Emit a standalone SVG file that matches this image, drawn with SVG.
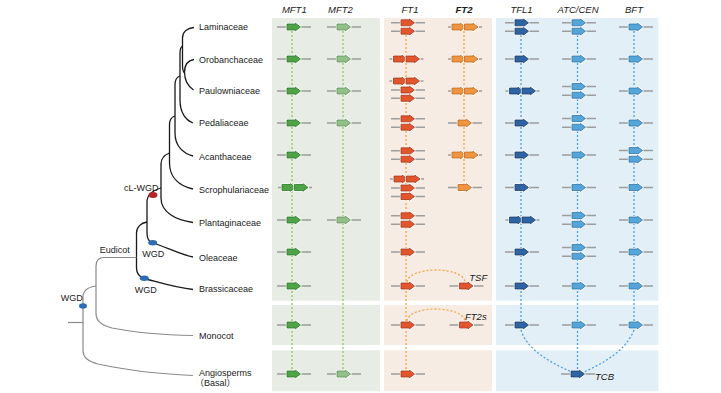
<svg xmlns="http://www.w3.org/2000/svg" xmlns:xlink="http://www.w3.org/1999/xlink" width="721" height="393" viewBox="0 0 721 393">
<style>
text{font-family:"Liberation Sans",Arial,sans-serif;fill:#1a1a1a}
.tx{font-size:9px}
.hd{font-size:9.5px;font-style:italic;text-anchor:middle}
.gl{font-size:9.5px;font-style:italic}
.ln{stroke:#9d9d9d;stroke-width:1.4}
.hl{fill:none;stroke:#ffffff;stroke-width:2.2;stroke-linejoin:round}
.cG{fill:#4ea447;stroke:#2d7a2a;stroke-width:0.8}
.cL{fill:#93c08a;stroke:#5d9156;stroke-width:0.8}
.cR{fill:#e2562f;stroke:#a3381b;stroke-width:0.8}
.cO{fill:#ef9440;stroke:#bd6a1f;stroke-width:0.8}
.cD{fill:#2f64a3;stroke:#1b3f70;stroke-width:0.8}
.cB{fill:#55a5d8;stroke:#2f77ad;stroke-width:0.8}
.br{fill:none;stroke:#1a1a1a;stroke-width:1.3}
.bg{fill:none;stroke:#8a8a8a;stroke-width:1.2}
.dg{fill:none;stroke:#92c85a;stroke-width:1.3;stroke-dasharray:2 2}
.do{fill:none;stroke:#f3a545;stroke-width:1.3;stroke-dasharray:2 2}
.db{fill:none;stroke:#4ea0d8;stroke-width:1.3;stroke-dasharray:2 2}
.pG{fill:#e7ede5}
.pO{fill:#f6ece3}
.pB{fill:#e3eff6}
</style>
<defs>
<path id="ah" d="M0,-3 H8.5 V-3.8 L13.5,0 L8.5,3.8 V3 H0 Z"/>
<g id="sG"><line class="ln" x1="-10" y1="0" x2="24" y2="0"/><use href="#ah" class="hl"/><use href="#ah" class="cG"/></g>
<g id="sL"><line class="ln" x1="-10" y1="0" x2="24" y2="0"/><use href="#ah" class="hl"/><use href="#ah" class="cL"/></g>
<g id="sR"><line class="ln" x1="-10" y1="0" x2="24" y2="0"/><use href="#ah" class="hl"/><use href="#ah" class="cR"/></g>
<g id="sO"><line class="ln" x1="-10" y1="0" x2="24" y2="0"/><use href="#ah" class="hl"/><use href="#ah" class="cO"/></g>
<g id="sD"><line class="ln" x1="-10" y1="0" x2="24" y2="0"/><use href="#ah" class="hl"/><use href="#ah" class="cD"/></g>
<g id="sB"><line class="ln" x1="-10" y1="0" x2="24" y2="0"/><use href="#ah" class="hl"/><use href="#ah" class="cB"/></g>
<g id="tG"><line class="ln" x1="-4" y1="0" x2="30" y2="0"/><use href="#ah" class="hl"/><use href="#ah" class="cG"/><use href="#ah" x="12.5" class="hl"/><use href="#ah" x="12.5" class="cG"/></g>
<g id="tR"><line class="ln" x1="-4" y1="0" x2="30" y2="0"/><use href="#ah" class="hl"/><use href="#ah" class="cR"/><use href="#ah" x="12.5" class="hl"/><use href="#ah" x="12.5" class="cR"/></g>
<g id="tO"><line class="ln" x1="-4" y1="0" x2="30" y2="0"/><use href="#ah" class="hl"/><use href="#ah" class="cO"/><use href="#ah" x="12.5" class="hl"/><use href="#ah" x="12.5" class="cO"/></g>
<g id="tD"><line class="ln" x1="-4" y1="0" x2="30" y2="0"/><use href="#ah" class="hl"/><use href="#ah" class="cD"/><use href="#ah" x="12.5" class="hl"/><use href="#ah" x="12.5" class="cD"/></g>
</defs>

<g id="panels">
<rect class="pG" x="272" y="18" width="108" height="282.7"/>
<rect class="pG" x="272" y="305" width="108" height="40"/>
<rect class="pG" x="272" y="350.3" width="108" height="41"/>
<rect class="pO" x="384" y="18" width="108" height="282.7"/>
<rect class="pO" x="384" y="305" width="108" height="40"/>
<rect class="pO" x="384" y="350.3" width="108" height="41"/>
<rect class="pB" x="496" y="18" width="162.3" height="282.7"/>
<rect class="pB" x="496" y="305" width="162.3" height="40"/>
<rect class="pB" x="496" y="350.3" width="162.3" height="41"/>
</g>

<g id="headers">
<text class="hd" x="294.3" y="12.5">MFT1</text>
<text class="hd" x="340.5" y="12.5">MFT2</text>
<text class="hd" x="410" y="12.5">FT1</text>
<text class="hd" x="464" y="12.5" font-weight="bold">FT2</text>
<text class="hd" x="521.5" y="12.5">TFL1</text>
<text class="hd" x="578" y="12.5">ATC/CEN</text>
<text class="hd" x="634" y="12.5">BFT</text>
</g>

<g id="connectors">
<!-- tree -->
<path class="br" d="M194,59.5 C188,60.5 184.5,65 184.5,72 C184.5,80 188.5,86.5 193.5,90"/>
<path class="br" d="M194,27.5 C187.5,28 182.5,31.5 182.5,38 V66 C182.5,70 183.5,72 184.5,73"/>
<path class="br" d="M182.5,46 C181,47 180,49 180,53 V100 C180,113 186,120.5 193,123"/>
<path class="br" d="M180,76 C177,77 175,80 175,85 V133 C175,146 183,153.5 193,156"/>
<path class="br" d="M175,116 C171.5,117 169.5,120 169.5,125 V163 C169.5,178 180,186 193,189"/>
<path class="br" d="M169.5,153 C164.5,155 161,158 161,164 V198 C161,212 175,220 193,222.5"/>
<path class="br" d="M161,188 C154,190 147,194 147,202 V233 C147,239 149,242 153,243 C166,247 180,254.5 193,257"/>
<path class="br" d="M147,222 C141,223 136.5,227 136.5,233 V268 C136.5,273 139,276.5 144,278.5 C158,282 176,288 193,289.5"/>
<path class="bg" d="M136.5,257.5 H104 C99,257.5 96,260 96,266 V313 C96,321 101,325 112,328 C135,332.5 165,335 193,335.5"/>
<path class="bg" d="M96,286 C89,287 83,290 83,297 V350 C83,357 87,361 98,364 C125,370 160,374 193,375.5"/>
<path class="bg" d="M68,322.5 H83"/>
<!-- gene lineages -->
<path class="dg" d="M292,27 V374"/>
<path class="dg" d="M343,27 V374"/>
<path class="do" d="M406,27 V374"/>
<path class="do" d="M464,27 V187.5"/>
<path class="db" d="M521,27 V325"/>
<path class="db" d="M577.5,27 V374"/>
<path class="db" d="M634,27 V325"/>
<path class="do" d="M407,282 C409,266 463,266 465,282"/>
<path class="do" d="M407,321 C409,305 462,305 465,321"/>
<path class="db" d="M521,330 C526,348 548,362 572,372"/>
<path class="db" d="M634,330 C626,350 606,362 584,372"/>
</g>

<g id="events">
<ellipse cx="153" cy="195" rx="4.5" ry="3" fill="#b5232b"/>
<ellipse cx="152.7" cy="242.7" rx="4.5" ry="2.7" fill="#2e6db4"/>
<ellipse cx="144.3" cy="278.3" rx="4.5" ry="2.7" fill="#2e6db4"/>
<ellipse cx="83" cy="306" rx="4" ry="2.7" fill="#2e6db4"/>
<text class="tx" x="158.5" y="190.5" text-anchor="end">cL-WGD</text>
<text class="tx" x="153.3" y="256.7" text-anchor="middle">WGD</text>
<text class="tx" x="145.8" y="292.7" text-anchor="middle">WGD</text>
<text class="tx" x="71.7" y="300.7" text-anchor="middle">WGD</text>
<text class="tx" x="114.7" y="253.3" text-anchor="middle">Eudicot</text>
</g>

<g id="taxa">
<g id="t-laminaceae"><text class="tx" x="199" y="30.3">Laminaceae</text></g>
<g id="t-orobanchaceae"><text class="tx" x="199" y="62.6">Orobanchaceae</text></g>
<g id="t-paulowniaceae"><text class="tx" x="199" y="94.3">Paulowniaceae</text></g>
<g id="t-pedaliaceae"><text class="tx" x="199" y="126.2">Pedaliaceae</text></g>
<g id="t-acanthaceae"><text class="tx" x="199" y="159.5">Acanthaceae</text></g>
<g id="t-scrophulariaceae"><text class="tx" x="199" y="192.5">Scrophulariaceae</text></g>
<g id="t-plantaginaceae"><text class="tx" x="199" y="226">Plantaginaceae</text></g>
<g id="t-oleaceae"><text class="tx" x="199" y="260.5">Oleaceae</text></g>
<g id="t-brassicaceae"><text class="tx" x="199" y="291.5">Brassicaceae</text></g>
<g id="t-monocot"><text class="tx" x="199" y="338.5">Monocot</text></g>
<g id="t-angiosperms"><text class="tx" x="199" y="375.6">Angiosperms</text><text class="tx" x="195" y="386.2" style="font-family:'Liberation Sans','Noto Sans CJK JP',sans-serif">（Basal）</text></g>
</g>

<g id="genes-MFT1">
<use href="#sG" x="287" y="27"/>
<use href="#sG" x="287" y="59"/>
<use href="#sG" x="287" y="91"/>
<use href="#sG" x="287" y="123"/>
<use href="#sG" x="287" y="155"/>
<use href="#tG" x="282" y="187.5"/>
<use href="#sG" x="287" y="220"/>
<use href="#sG" x="287" y="252"/>
<use href="#sG" x="287" y="286"/>
<use href="#sG" x="287" y="325"/>
<use href="#sG" x="287" y="374"/>
</g>
<g id="genes-MFT2">
<use href="#sL" x="337" y="27"/>
<use href="#sL" x="337" y="59"/>
<use href="#sL" x="337" y="91"/>
<use href="#sL" x="337" y="123"/>
<use href="#sL" x="337" y="220"/>
<use href="#sL" x="337" y="374"/>
</g>
<g id="genes-FT1">
<use href="#sR" x="401" y="22.8"/>
<use href="#sR" x="401" y="31.2"/>
<use href="#tR" x="393.5" y="59"/>
<use href="#tR" x="393.5" y="81"/>
<use href="#sR" x="401" y="90"/>
<use href="#sR" x="401" y="98.3"/>
<use href="#sR" x="401" y="118.8"/>
<use href="#sR" x="401" y="127.2"/>
<use href="#sR" x="401" y="150.8"/>
<use href="#sR" x="401" y="159.2"/>
<use href="#tR" x="394" y="179"/>
<use href="#sR" x="401" y="188"/>
<use href="#sR" x="401" y="196.5"/>
<use href="#sR" x="401" y="215.8"/>
<use href="#sR" x="401" y="224.2"/>
<use href="#sR" x="401" y="252"/>
<use href="#sR" x="401" y="286"/>
<use href="#sR" x="401" y="325"/>
<use href="#sR" x="401" y="374"/>
</g>
<g id="genes-FT2">
<use href="#tO" x="452" y="27"/>
<use href="#tO" x="452" y="59"/>
<use href="#tO" x="452" y="91"/>
<use href="#sO" x="458" y="123"/>
<use href="#tO" x="452" y="155"/>
<use href="#sO" x="458" y="187.5"/>
<use href="#sR" x="459.5" y="286"/>
<use href="#sR" x="459.5" y="325"/>
<text class="gl" x="469.3" y="280.7">TSF</text>
<text class="gl" x="465" y="320">FT2s</text>
</g>
<g id="genes-TFL1">
<use href="#sD" x="515" y="22.8"/>
<use href="#sD" x="515" y="31.2"/>
<use href="#sD" x="515" y="59"/>
<use href="#tD" x="509.5" y="91"/>
<use href="#sD" x="515" y="123"/>
<use href="#sD" x="515" y="155"/>
<use href="#sD" x="515" y="187.5"/>
<use href="#tD" x="509.5" y="220"/>
<use href="#sD" x="515" y="252"/>
<use href="#sD" x="515" y="286"/>
<use href="#sD" x="515" y="325"/>
</g>
<g id="genes-ATC">
<use href="#sB" x="572" y="22.8"/>
<use href="#sB" x="572" y="31.2"/>
<use href="#sB" x="572" y="59"/>
<use href="#sB" x="572" y="86.5"/>
<use href="#sB" x="572" y="95.2"/>
<use href="#sB" x="572" y="118.5"/>
<use href="#sB" x="572" y="127.2"/>
<use href="#sB" x="572" y="155"/>
<use href="#sB" x="572" y="187.5"/>
<use href="#sB" x="572" y="215.5"/>
<use href="#sB" x="572" y="224.3"/>
<use href="#sB" x="572" y="247.5"/>
<use href="#sB" x="572" y="256.2"/>
<use href="#sB" x="572" y="286"/>
<use href="#sB" x="572" y="325"/>
<use href="#sD" x="571" y="374"/>
<text class="gl" x="595" y="379.5">TCB</text>
</g>
<g id="genes-BFT">
<use href="#sB" x="629" y="27"/>
<use href="#sB" x="629" y="59"/>
<use href="#sB" x="629" y="91"/>
<use href="#sB" x="629" y="123"/>
<use href="#sB" x="629" y="150.5"/>
<use href="#sB" x="629" y="159.2"/>
<use href="#sB" x="629" y="187.5"/>
<use href="#sB" x="629" y="220"/>
<use href="#sB" x="629" y="252"/>
<use href="#sB" x="629" y="286"/>
<use href="#sB" x="629" y="325"/>
</g>
</svg>
